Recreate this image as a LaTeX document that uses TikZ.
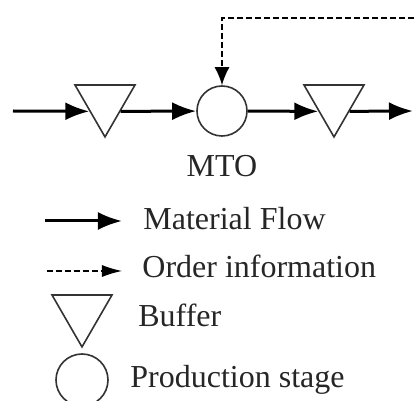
\documentclass[tikz,border=0pt]{standalone}
\usepackage{fontspec}
\setmainfont{Liberation Serif}
\usepackage{tikz}
\usetikzlibrary{arrows.meta,shapes.geometric}

\begin{document}
\begin{tikzpicture}[>={Latex[length=12pt,width=9pt]}, x=0.5pt, y=-0.5pt]
			\tikzstyle{buffer} = [draw=black!80, thick, regular polygon, regular polygon sides=3, shape border rotate=180, minimum size=34.64pt, inner sep=0pt]
			\tikzstyle{stage} = [draw=black!80, thick, circle, minimum size=25pt, inner sep=0pt]
			\tikzstyle{legtext} = [anchor=base west, inner sep=0pt, text=black!85, font=\fontsize{16}{19}\selectfont]
			\tikzstyle{order} = [dash pattern=on 3pt off 1.5pt, line width=0.8pt, -{Latex[length=9pt,width=7.5pt]}]
			\useasboundingbox (0,0) rectangle (414,401);
			\begin{scope}
			\path[->, line width=1.5pt]

			coordinate (in) at (13,111)
			node[buffer] (b1) at (105,102.3) {}
			node[stage] (mto) at (222,111) {}
			node[buffer] (b2) at (334,102.3) {}
			coordinate (out) at (413,111)
			coordinate (ord) at (414,18)
			node[legtext, anchor=base] (mtolab) at (222,177) {MTO}

			(in) edge (b1.side 3)
			(b1.side 1) edge (mto)
			(mto) edge (b2.side 3)
			(b2.side 1) edge (out)
			;
			\draw[order] (ord) -| (mto);
			\end{scope}

			% legend
			\begin{scope}
			\coordinate (mats) at (45,221);
			\coordinate (mate) at (122,221);
			\node[legtext] (matlab) at (143,230) {Material Flow};
			\draw[->, line width=1.5pt] (mats) -- (mate);

			\coordinate (ords) at (47,271);
			\coordinate (orde) at (122,271);
			\node[legtext] (ordlab) at (142,278) {Order information};
			\draw[order, line width=0.6pt, -{Latex[length=10pt,width=6pt]}] (ords) -- (orde);

			\node[buffer] (lbuf) at (82,312.3) {};
			\node[legtext] (buflab) at (138,327) {Buffer};

			\node[stage, minimum size=26pt] (lstage) at (82,380) {};
			\node[legtext] (stagelab) at (130,388) {Production stage};
			\end{scope}

\end{tikzpicture}
\end{document}
